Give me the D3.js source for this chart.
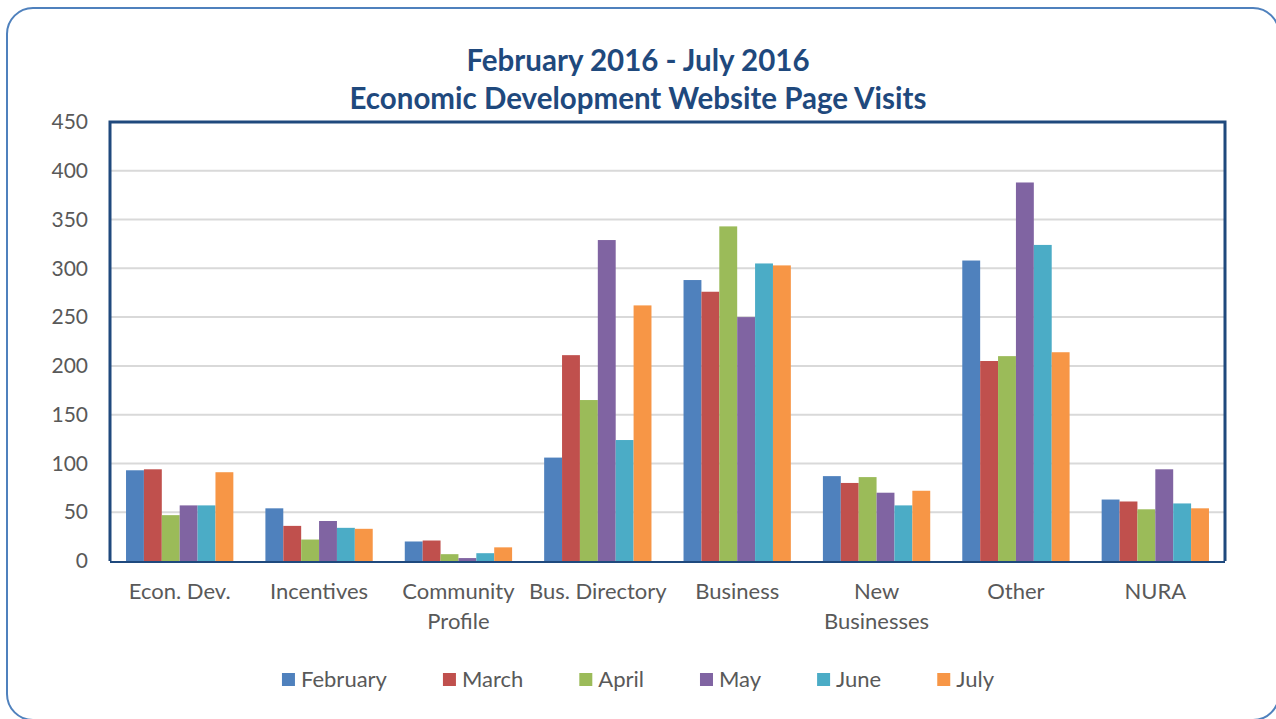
<!DOCTYPE html>
<html>
<head>
<meta charset="utf-8">
<script src="https://cdn.jsdelivr.net/npm/d3@7"></script>
<style>
  html, body { margin: 0; padding: 0; background: #fff; }
  svg { display: block; font-family: Lato, "Open Sans", sans-serif; }
</style>
</head>
<body>
<svg id="chart" width="1276" height="719"></svg>
<script>
const width = 1276, height = 719;

// chart data
const categories = [
  ['Econ. Dev.'],
  ['Incentives'],
  ['Community', 'Profile'],
  ['Bus. Directory'],
  ['Business'],
  ['New', 'Businesses'],
  ['Other'],
  ['NURA']
];
const months = ['February', 'March', 'April', 'May', 'June', 'July'];
const colors = ['#4F81BD', '#C0504D', '#9BBB59', '#8064A2', '#4BACC6', '#F79646'];
// values per category, one per month
const february = [93, 54, 20, 106, 288, 87, 308, 63];
const march    = [94, 36, 21, 211, 276, 80, 205, 61];
const april    = [47, 22,  7, 165, 343, 86, 210, 53];
const may      = [57, 41,  3, 329, 250, 70, 388, 94];
const june     = [57, 34,  8, 124, 305, 57, 324, 59];
const july     = [91, 33, 14, 262, 303, 72, 214, 54];
const yTicks = [0, 50, 100, 150, 200, 250, 300, 350, 400, 450];
const titleLines = ['February 2016 - July 2016', 'Economic Development Website Page Visits'];

const series = [february, march, april, may, june, july];
const catKeys = categories.map(c => c.join(' '));

const plot = { left: 110, right: 1225, top: 122, bottom: 561 };

const svg = d3.select('#chart');

// outer rounded frame
svg.append('rect')
  .attr('x', 7).attr('y', 8)
  .attr('width', 1272).attr('height', 712)
  .attr('rx', 26).attr('ry', 26)
  .attr('fill', 'none')
  .attr('stroke', '#4F81BD')
  .attr('stroke-width', 2);

// title
const title = svg.append('text')
  .attr('text-anchor', 'middle')
  .attr('fill', '#1F497D')
  .style('font-weight', 'bold')
  .style('font-size', '29.5px');
titleLines.forEach((t, i) => {
  title.append('tspan').attr('x', 638).attr('y', 71 + i * 38).text(t);
});

// scales
const x0 = d3.scaleBand()
  .domain(catKeys)
  .range([plot.left, plot.right])
  .paddingInner(0.23)
  .paddingOuter(0.115);

const x1 = d3.scaleBand()
  .domain(months)
  .range([0, x0.bandwidth()]);

const y = d3.scaleLinear()
  .domain([0, 450])
  .range([plot.bottom, plot.top]);

// gridlines
svg.append('g')
  .selectAll('line')
  .data(yTicks.filter(t => t > 0 && t < 450))
  .join('line')
  .attr('x1', plot.left).attr('x2', plot.right)
  .attr('y1', d => y(d)).attr('y2', d => y(d))
  .attr('stroke', '#D9D9D9')
  .attr('stroke-width', 2);

// y axis labels
const yAxis = svg.append('g')
  .attr('transform', `translate(${plot.left},0)`)
  .call(d3.axisLeft(y).tickValues(yTicks).tickSize(0).tickPadding(22));
yAxis.select('.domain').remove();
yAxis.selectAll('text')
  .attr('fill', '#595959')
  .style('font-size', '21px')
  .style('font-family', 'Lato, "Open Sans", sans-serif');

// bars
const groups = svg.append('g')
  .selectAll('g')
  .data(catKeys)
  .join('g')
  .attr('transform', d => `translate(${x0(d)},0)`);

groups.selectAll('rect')
  .data((d, ci) => months.map((m, si) => ({ month: m, value: series[si][ci], color: colors[si] })))
  .join('rect')
  .attr('x', d => x1(d.month))
  .attr('y', d => y(d.value))
  .attr('width', x1.bandwidth())
  .attr('height', d => y(0) - y(d.value))
  .attr('fill', d => d.color);

// plot frame (left, top, right) and bottom axis line
svg.append('path')
  .attr('d', `M${plot.left},${plot.bottom}V${plot.top}H${plot.right}V${plot.bottom}`)
  .attr('fill', 'none')
  .attr('stroke', '#1F497D')
  .attr('stroke-width', 3);
svg.append('line')
  .attr('x1', plot.left).attr('x2', plot.right)
  .attr('y1', plot.bottom + 1).attr('y2', plot.bottom + 1)
  .attr('stroke', '#1F497D')
  .attr('stroke-width', 2);

// category labels
const catLabels = svg.append('g')
  .selectAll('text')
  .data(categories)
  .join('text')
  .attr('text-anchor', 'middle')
  .attr('fill', '#595959')
  .style('font-size', '22px');
catLabels.each(function(lines, i) {
  const cx = x0(catKeys[i]) + x0.bandwidth() / 2;
  d3.select(this).selectAll('tspan')
    .data(lines)
    .join('tspan')
    .attr('x', cx)
    .attr('y', (d, j) => 599 + j * 30)
    .text(d => d);
});

// legend
const legend = svg.append('g').style('font-size', '22px');
const items = legend.selectAll('g')
  .data(months)
  .join('g');
items.append('rect')
  .attr('y', 673)
  .attr('width', 13).attr('height', 13)
  .attr('fill', (d, i) => colors[i]);
items.append('text')
  .attr('x', 19).attr('y', 687)
  .attr('fill', '#595959')
  .text(d => d);

let pos = 0;
const offsets = [];
items.each(function() {
  offsets.push(pos);
  const w = d3.select(this).select('text').node().getComputedTextLength();
  pos += 19 + w + 56;
});
const total = pos - 56;
const startX = 638 - total / 2;
items.attr('transform', (d, i) => `translate(${startX + offsets[i]},0)`);
</script>
</body>
</html>
